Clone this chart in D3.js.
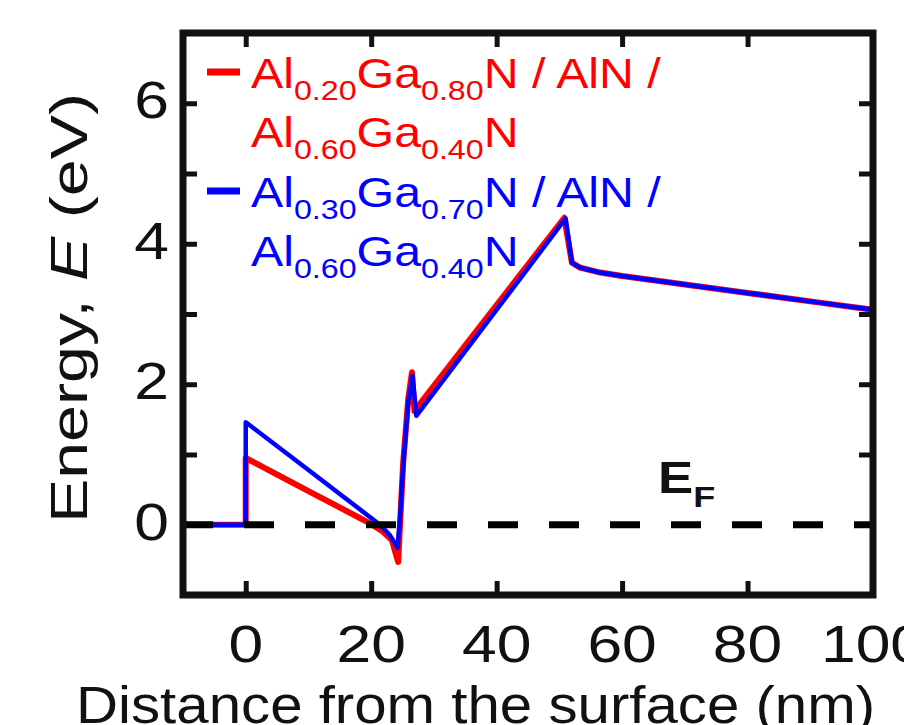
<!DOCTYPE html>
<html>
<head>
<meta charset="utf-8">
<script src="https://cdn.jsdelivr.net/npm/d3@7"></script>
<style>
  body { margin: 0; background: #fff; }
  svg { display: block; }
  text { font-family: "Liberation Sans", Arial, sans-serif; }
</style>
</head>
<body>
<svg id="chart" width="904" height="725"></svg>
<script>
/* band diagram data */
var xTicks = [0, 20, 40, 60, 80, 100];
var xLabels = [0, 20, 40, 60, 80, 100];
var yTicks = [0, 1, 2, 3, 4, 5, 6];
var yLabels = [0, 2, 4, 6];
var fermiLevel = [[-10, 0], [100, 0]];

var redSeries = [[-10, 0], [0, 0], [0, 0.95], [10, 0.48], [19.8, 0.02], [21.9, -0.1], [23.3, -0.22],
  [24.3, -0.53], [24.6, 0.0], [25.1, 0.88], [25.9, 1.78], [26.5, 2.17], [26.9, 1.62], [50.8, 4.37],
  [52.0, 3.73], [53.3, 3.66], [56.5, 3.59], [60, 3.54], [70, 3.42], [80, 3.30], [90, 3.18], [100, 3.06]];

var blueSeries = [[-10, 0], [0, 0], [0, 1.46], [10, 0.78], [21.4, 0.0], [23.0, -0.15], [24.2, -0.33],
  [24.6, 0.1], [25.1, 0.85], [25.9, 1.75], [26.6, 2.12], [27.2, 1.55], [51.0, 4.36],
  [52.0, 3.73], [53.3, 3.66], [56.5, 3.59], [60, 3.54], [70, 3.42], [80, 3.30], [90, 3.18], [100, 3.06]];

// legend rows: [text, isSubscript]
var legendRed = [
  [["Al", 0], ["0.20", 1], ["Ga", 0], ["0.80", 1], ["N / AlN /", 0]],
  [["Al", 0], ["0.60", 1], ["Ga", 0], ["0.40", 1], ["N", 0]]
];
var legendBlue = [
  [["Al", 0], ["0.30", 1], ["Ga", 0], ["0.70", 1], ["N / AlN /", 0]],
  [["Al", 0], ["0.60", 1], ["Ga", 0], ["0.40", 1], ["N", 0]]
];

var svg = d3.select("#chart");

var x = d3.scaleLinear().domain([-10, 100]).range([183, 873]);
var y = d3.scaleLinear().domain([-1, 7]).range([595, 33]);

var line = d3.line()
  .x(function(d) { return x(d[0]); })
  .y(function(d) { return y(d[1]); });

// ticks pointing inward on all four sides
function tickStyle(g) {
  g.select(".domain").remove();
  g.selectAll(".tick line").attr("stroke", "#111").attr("stroke-width", 5);
  g.selectAll(".tick text").remove();
}
svg.append("g").attr("transform", "translate(0," + y(-1) + ")")
  .call(d3.axisBottom(x).tickValues(xTicks).tickSize(-14)).call(tickStyle);
svg.append("g").attr("transform", "translate(0," + y(7) + ")")
  .call(d3.axisTop(x).tickValues(xTicks).tickSize(-14)).call(tickStyle);
svg.append("g").attr("transform", "translate(" + x(-10) + ",0)")
  .call(d3.axisLeft(y).tickValues(yTicks).tickSize(-14)).call(tickStyle);
svg.append("g").attr("transform", "translate(" + x(100) + ",0)")
  .call(d3.axisRight(y).tickValues(yTicks).tickSize(-14)).call(tickStyle);

// band lines
svg.append("path").datum(redSeries)
  .attr("fill", "none").attr("stroke", "#ff0000").attr("stroke-width", 6)
  .attr("stroke-linejoin", "round").attr("d", line);
svg.append("path").datum(blueSeries)
  .attr("fill", "none").attr("stroke", "#0000ff").attr("stroke-width", 4.5)
  .attr("stroke-linejoin", "round").attr("d", line);

// Fermi level
svg.append("path").datum(fermiLevel)
  .attr("fill", "none").attr("stroke", "#000").attr("stroke-width", 7)
  .attr("stroke-dasharray", "30,31").attr("d", line);

// frame
svg.append("rect")
  .attr("x", x(-10)).attr("y", y(7))
  .attr("width", x(100) - x(-10)).attr("height", y(-1) - y(7))
  .attr("fill", "none").attr("stroke", "#111").attr("stroke-width", 7);

// tick labels (figure text is a little wide, so stretch horizontally)
svg.selectAll(".xlab").data(xLabels).enter().append("text")
  .attr("transform", function(d) { return "translate(" + x(d) + ",662) scale(1.2,1)"; })
  .attr("text-anchor", "middle").style("font-size", "52px").attr("fill", "#111")
  .text(function(d) { return d; });

svg.selectAll(".ylab").data(yLabels).enter().append("text")
  .attr("transform", function(d) { return "translate(169," + (y(d) + 15) + ") scale(1.2,1)"; })
  .attr("text-anchor", "end").style("font-size", "52px").attr("fill", "#111")
  .text(function(d) { return d; });

// axis titles
svg.append("text")
  .attr("transform", "translate(76,723) scale(1.12,1)")
  .style("font-size", "52px").attr("fill", "#111")
  .text("Distance from the surface (nm)");

var yt = svg.append("text")
  .attr("transform", "translate(87,308) rotate(-90)")
  .attr("text-anchor", "middle").style("font-size", "52px").attr("fill", "#111")
  .attr("textLength", 430).attr("lengthAdjust", "spacingAndGlyphs");
yt.append("tspan").text("Energy, ");
yt.append("tspan").style("font-style", "italic").text("E");
yt.append("tspan").text(" (eV)");

// E_F label
var ef = svg.append("text")
  .attr("transform", "translate(658,493) scale(1.2,1)")
  .style("font-size", "44px").style("font-weight", "bold").attr("fill", "#111");
ef.append("tspan").text("E");
ef.append("tspan").attr("dy", 14).style("font-size", "30px").text("F");

// legend
function legendRows(rows, color, top) {
  rows.forEach(function(row, i) {
    var t = svg.append("text")
      .attr("transform", "translate(251," + (top + i * 59) + ") scale(1.15,1)")
      .style("font-size", "42px").attr("fill", color);
    var shifted = false;
    row.forEach(function(part) {
      var s = t.append("tspan").text(part[0]);
      if (part[1] && !shifted) { s.attr("dy", 12).style("font-size", "28px"); shifted = true; }
      else if (!part[1] && shifted) { s.attr("dy", -12); shifted = false; }
    });
  });
  svg.append("line")
    .attr("x1", 207).attr("x2", 240)
    .attr("y1", top - 16).attr("y2", top - 16)
    .attr("stroke", color).attr("stroke-width", 7);
}
legendRows(legendRed, "#ff0000", 88);
legendRows(legendBlue, "#0000ff", 207);
</script>
</body>
</html>
